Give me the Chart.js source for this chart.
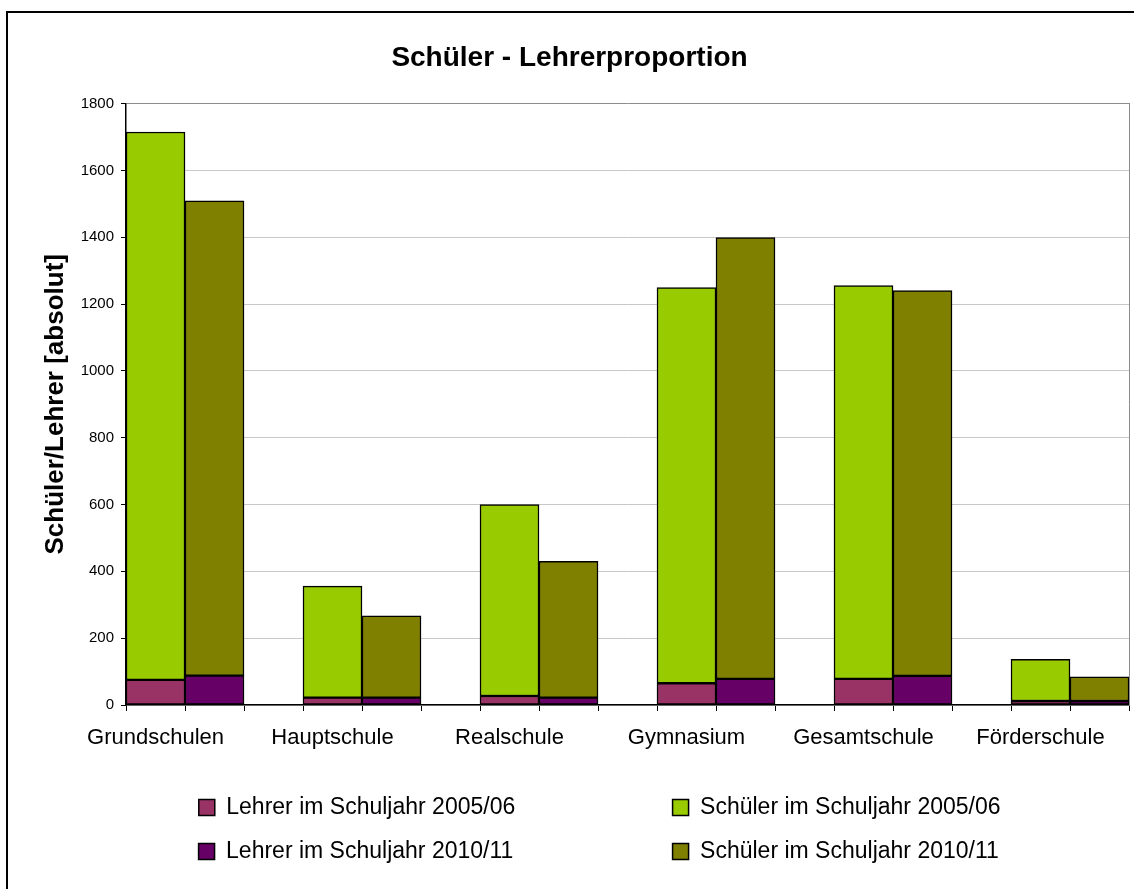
<!DOCTYPE html>
<html>
<head>
<meta charset="utf-8">
<title>Schüler - Lehrerproportion</title>
<script src="https://cdn.jsdelivr.net/npm/chart.js@4/dist/chart.umd.min.js"></script>
<style>
	html, body { margin: 0; padding: 0; background: #fff; overflow: hidden; }
	#frame { position: absolute; left: 6px; top: 11px; width: 1400px; height: 1200px; border: 2px solid #000; }
	#chart { position: absolute; left: 0; top: 0; }
</style>
</head>
<body>
<div id="frame"></div>
<canvas id="chart" width="1134" height="889"></canvas>
<script>

var categories = ['Grundschulen', 'Hauptschule', 'Realschule', 'Gymnasium', 'Gesamtschule', 'Förderschule'];
var seriesNames = ['Lehrer im Schuljahr 2005/06', 'Schüler im Schuljahr 2005/06', 'Lehrer im Schuljahr 2010/11', 'Schüler im Schuljahr 2010/11'];

var teachers2005 = [75, 22, 27, 65, 78, 12];
var students2005 = [1640, 334, 573, 1184, 1177, 125];
var teachers2010 = [88, 22, 22, 78, 87, 12];
var students2010 = [1421, 245, 408, 1321, 1153, 72];

var yMax = 1800;
var yStep = 200;

var chartApp = ( function () {

	var FONT = "'Liberation Sans', Arial, sans-serif";
	var COLORS = ['#993366', '#99cc00', '#660066', '#808000'];
	// text widths of the two legend columns, so two items sit per row
	var LEGEND_COLUMNS = [425, 357];

	function privateSlots(values, offset) {
		// two bars per school type and one empty slot between the groups
		var slotCount = categories.length * 3 - 1;
		var slots = [];
		for (var i = 0; i < slotCount; i++) {
			slots.push(null);
		}
		values.forEach(function (v, i) {
			slots[i * 3 + offset] = v;
		});
		return slots;
	}

	function privateSlotLabels() {
		var labels = privateSlots(categories, 0);
		return labels.map(function (l) { return l === null ? '' : l; });
	}

	function privateLegendLabels(chart) {
		var items = Chart.defaults.plugins.legend.labels.generateLabels(chart);
		var ctx = chart.ctx;
		ctx.save();
		ctx.font = '23px ' + FONT;
		var pad = '\u200a';
		if (ctx.measureText(pad).width < 0.5) {
			pad = ' ';
		}
		var step = ctx.measureText(pad).width;
		items.forEach(function (item, i) {
			var target = LEGEND_COLUMNS[i % 2];
			while (ctx.measureText(item.text).width + step / 2 < target) {
				item.text += pad;
			}
		});
		ctx.restore();
		return items;
	}

	function privateDataset(index, values, offset) {
		return {
			label: seriesNames[index],
			data: privateSlots(values, offset),
			backgroundColor: COLORS[index],
			borderColor: '#000',
			borderWidth: 1.5,
			borderSkipped: false,
			barPercentage: 1,
			categoryPercentage: 1
		};
	}

	function publicStart() {
		Chart.defaults.color = '#000';
		Chart.defaults.font.family = FONT;

		var ctxObj = document.getElementById('chart');
		return new Chart(ctxObj, {
			type: 'bar',
			data: {
				labels: privateSlotLabels(),
				datasets: [
					privateDataset(0, teachers2005, 0),
					privateDataset(1, students2005, 0),
					privateDataset(2, teachers2010, 1),
					privateDataset(3, students2010, 1)
				]
			},
			options: {
				responsive: false,
				animation: false,
				layout: { padding: { left: 10, right: 5, top: 34, bottom: 16 } },
				plugins: {
					title: {
						display: true,
						text: 'Schüler - Lehrerproportion',
						font: { size: 28, weight: 'bold' },
						padding: { top: 7, bottom: 29 }
					},
					legend: {
						position: 'bottom',
						fullSize: false,
						labels: {
							font: { size: 23 },
							boxWidth: 16,
							boxHeight: 16,
							padding: 21,
							generateLabels: privateLegendLabels
						}
					},
					tooltip: { enabled: false }
				},
				scales: {
					x: {
						stacked: true,
						offset: true,
						grid: {
							offset: true,
							drawOnChartArea: false,
							color: '#000',
							tickLength: 6
						},
						border: { color: '#000', width: 1.5 },
						ticks: {
							autoSkip: false,
							maxRotation: 0,
							minRotation: 0,
							padding: 14,
							font: { size: 22 }
						},
						afterFit: function (scale) { scale.height = 70; }
					},
					y: {
						stacked: true,
						min: 0,
						max: yMax,
						ticks: {
							stepSize: yStep,
							padding: 7,
							font: { size: 15 },
							callback: function (value) { return String(value); }
						},
						grid: {
							color: function (c) { return c.tick && c.tick.value === yMax ? '#8c8c8c' : '#c8c8c8'; },
							tickColor: '#000',
							tickLength: 5
						},
						border: { color: '#000', width: 1.5 },
						title: {
							display: true,
							text: 'Schüler/Lehrer [absolut]',
							font: { size: 26, weight: 'bold' },
							padding: { top: 30, bottom: 9.6 }
						},
						afterFit: function (scale) { scale.width = 116; }
					},
					y2: {
						position: 'right',
						min: 0,
						max: 1,
						grid: { display: false, drawTicks: false },
						ticks: { display: false },
						border: { display: true, color: '#8c8c8c', width: 1 },
						afterFit: function (scale) { scale.width = 0; }
					}
				}
			}
		});
	}

	return {
		start: publicStart
	};

})();

chartApp.start();
</script>
</body>
</html>
